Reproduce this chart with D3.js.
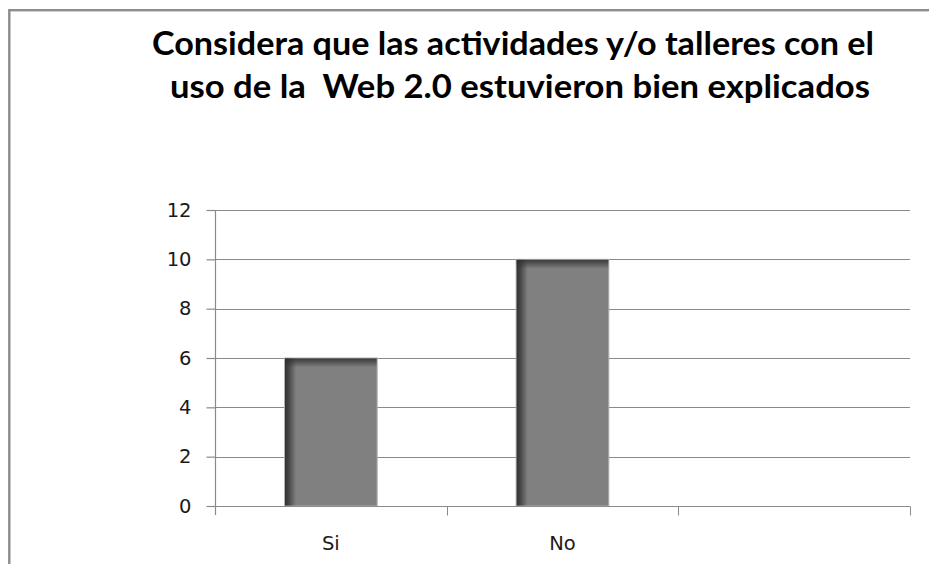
<!DOCTYPE html>
<html>
<head>
<meta charset="utf-8">
<script src="https://cdn.jsdelivr.net/npm/d3@7"></script>
<style>
  body { margin: 0; background: #fff; }
  svg { display: block; }
</style>
</head>
<body>
<div id="chart"></div>
<script>
// datos del grafico
var titleLines = ["Considera que las actividades y/o talleres con el",
                  "uso de la  Web 2.0 estuvieron bien explicados"];
var categories = ["Si", "No", ""];
var values = [6, 10, null];
var yTicks = [0, 2, 4, 6, 8, 10, 12];

var WIDTH = 929, HEIGHT = 564;
var margin = { left: 215, right: 19, top: 210, bottom: 58 };

var svg = d3.select("#chart").append("svg")
    .attr("width", WIDTH)
    .attr("height", HEIGHT);

// marco gris
svg.append("rect")
    .attr("x", 9.3).attr("y", 10.2)
    .attr("width", WIDTH + 20).attr("height", HEIGHT + 20)
    .attr("fill", "#fff")
    .attr("stroke", "#8c8c8c")
    .attr("stroke-width", 2.4);

// titulo
var title = svg.append("g");
var titleWidths = [722, 700];
title.selectAll("text")
    .data(titleLines).enter()
    .append("text")
    .attr("x", function (d, i) { return i === 0 ? 513 : 520; })
    .attr("y", function (d, i) { return 55 + i * 43; })
    .attr("text-anchor", "middle")
    .attr("textLength", function (d, i) { return titleWidths[i]; })
    .attr("lengthAdjust", "spacingAndGlyphs")
    .style("white-space", "pre")
    .style("font-family", "Lato, 'Open Sans', sans-serif")
    .style("font-weight", "700")
    .style("font-size", "32px")
    .style("fill", "#000")
    .text(function (d) { return d; });

var x = d3.scaleBand()
    .domain(categories)
    .range([margin.left, WIDTH - margin.right])
    .padding(0);

var y = d3.scaleLinear()
    .domain([0, 12])
    .range([HEIGHT - margin.bottom, margin.top]);

// degradados de las barras
var defs = svg.append("defs");
var gl = defs.append("linearGradient").attr("id", "shadeLeft")
    .attr("x1", "0").attr("x2", "1").attr("y1", "0").attr("y2", "0");
gl.append("stop").attr("offset", "0").attr("stop-color", "#2e2e2e").attr("stop-opacity", 0.95);
gl.append("stop").attr("offset", "0.35").attr("stop-color", "#2e2e2e").attr("stop-opacity", 0.7);
gl.append("stop").attr("offset", "1").attr("stop-color", "#2e2e2e").attr("stop-opacity", 0);
var gt = defs.append("linearGradient").attr("id", "shadeTop")
    .attr("x1", "0").attr("x2", "0").attr("y1", "0").attr("y2", "1");
gt.append("stop").attr("offset", "0").attr("stop-color", "#2e2e2e").attr("stop-opacity", 0.85);
gt.append("stop").attr("offset", "1").attr("stop-color", "#2e2e2e").attr("stop-opacity", 0);

// lineas de cuadricula
svg.append("g")
    .selectAll("line")
    .data(yTicks.filter(function (d) { return d > 0; }))
    .enter().append("line")
    .attr("x1", margin.left).attr("x2", WIDTH - margin.right)
    .attr("y1", function (d) { return Math.round(y(d)) + 0.5; })
    .attr("y2", function (d) { return Math.round(y(d)) + 0.5; })
    .attr("stroke", "#8a8a8a")
    .attr("stroke-width", 1.2);

// barras
var barW = x.bandwidth() * 0.4;
var bars = svg.append("g")
    .selectAll("g")
    .data(categories.map(function (c, i) { return { cat: c, v: values[i] }; })
        .filter(function (d) { return d.v != null; }))
    .enter().append("g");

bars.append("rect")
    .attr("x", function (d) { return x(d.cat) + (x.bandwidth() - barW) / 2; })
    .attr("y", function (d) { return y(d.v); })
    .attr("width", barW)
    .attr("height", function (d) { return y(0) - y(d.v); })
    .attr("fill", "#808080")
    .attr("stroke", "#b0b0b0")
    .attr("stroke-width", 1);

bars.append("rect")
    .attr("x", function (d) { return x(d.cat) + (x.bandwidth() - barW) / 2 + 0.5; })
    .attr("y", function (d) { return y(d.v) + 0.5; })
    .attr("width", 11)
    .attr("height", function (d) { return y(0) - y(d.v) - 1; })
    .attr("fill", "url(#shadeLeft)");

bars.append("rect")
    .attr("x", function (d) { return x(d.cat) + (x.bandwidth() - barW) / 2 + 0.5; })
    .attr("y", function (d) { return y(d.v) + 0.5; })
    .attr("width", barW - 1)
    .attr("height", 9)
    .attr("fill", "url(#shadeTop)");

// eje Y
var yAxis = svg.append("g")
    .attr("transform", "translate(" + (margin.left + 0.5) + ",0)")
    .call(d3.axisLeft(y).tickValues(yTicks).tickSize(9).tickPadding(15));
yAxis.select(".domain").attr("d", "M0," + y(12) + "V" + (y(0) + 9));

// eje X
var xAxis = svg.append("g")
    .attr("transform", "translate(0," + (Math.round(y(0)) + 0.5) + ")")
    .call(d3.axisBottom(x).tickSize(0).tickPadding(30));
xAxis.select(".domain").attr("d", "M" + margin.left + ",0H" + (WIDTH - margin.right));
xAxis.selectAll(".tick line").remove();
xAxis.append("g")
    .selectAll("line")
    .data(categories.map(function (c) { return x(c) + x.bandwidth(); }))
    .enter().append("line")
    .attr("x1", function (d) { return Math.round(d) + 0.5; })
    .attr("x2", function (d) { return Math.round(d) + 0.5; })
    .attr("y1", 0).attr("y2", 9)
    .attr("stroke", "#8a8a8a");

svg.selectAll(".domain, .tick line").attr("stroke", "#8a8a8a").attr("stroke-width", 1.2);
svg.selectAll(".tick text")
    .style("font-family", "'DejaVu Sans', sans-serif")
    .style("font-size", "19.5px")
    .style("fill", "#1a1a1a");
</script>
</body>
</html>
